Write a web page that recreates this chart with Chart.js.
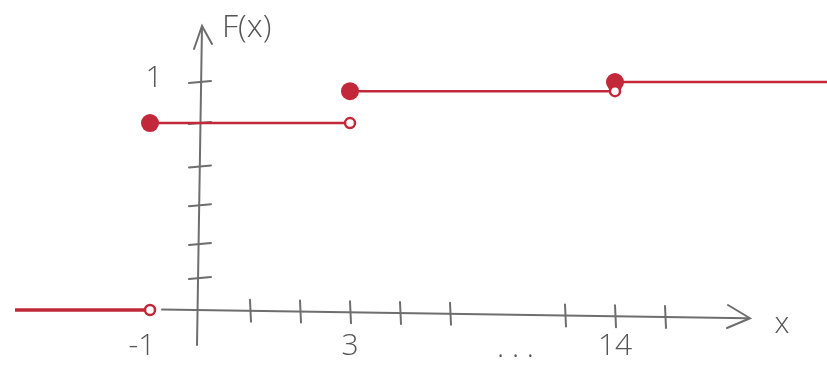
<!DOCTYPE html>
<html lang="en">
<head>
    <meta charset="UTF-8">
    <title>F(x) step function</title>
    <script src="https://cdn.jsdelivr.net/npm/chart.js"></script>
    <style>
        html, body {
            margin: 0;
            padding: 0;
            background: #ffffff;
        }
        #wrap {
            width: 827px;
            height: 367px;
        }
    </style>
</head>
<body>
    <div id="wrap"><canvas id="cdfChart"></canvas></div>

    <script>
        // Jump points of F(x) and the level on each piece
        const jumpsX = [-1, 3, 14];
        const levels = [0, 0.82, 0.96, 1];

        // Axis ticks as drawn (x axis is broken between 5 and 13)
        const xTicks = [1, 2, 3, 4, 5, 13, 14, 15];
        const xLabels = ['-1', '3', '14'];
        const xLabelValues = [-1, 3, 14];
        const yTicks = [0.14, 0.29, 0.46, 0.63, 0.82, 1];
        const yLabel = '1';

        const red = '#c2283a';
        const grey = '#6e6e6e';

        // squeeze the gap "..." between 5 and 13
        function axisPos(x) {
            return x <= 5 ? x : x - 5.7;
        }

        // one dataset per piece: filled dot at the left end, open circle at the right end
        const pieces = [];
        const bounds = [-3.7].concat(jumpsX).concat([20]);
        for (let i = 0; i < levels.length; i++) {
            pieces.push({
                data: [
                    { x: axisPos(bounds[i]), y: levels[i] },
                    { x: axisPos(bounds[i + 1]), y: levels[i] }
                ],
                borderColor: red,
                borderWidth: i === 0 ? 3.5 : 2.5,
                pointRadius: [i === 0 ? 0 : 9, i === levels.length - 1 ? 0 : 5],
                pointBackgroundColor: [red, '#ffffff'],
                pointBorderColor: red,
                pointBorderWidth: [0, 2.5],
                pointHoverRadius: 0
            });
        }

        // hand-drawn style axes, tick marks and labels
        const sketchAxes = {
            id: 'sketchAxes',
            beforeDatasetsDraw(chart) {
                const { ctx, scales: { x, y } } = chart;
                const x0 = x.getPixelForValue(0);
                const y0 = y.getPixelForValue(0);
                ctx.save();
                ctx.strokeStyle = grey;
                ctx.lineWidth = 2;
                ctx.lineCap = 'round';

                // x axis, sloping a little like the pen line
                const slope = 0.015;
                const yAt = px => y0 + (px - x0) * slope;
                ctx.beginPath();
                ctx.moveTo(162, yAt(162));
                ctx.lineTo(748, yAt(748));
                ctx.stroke();
                ctx.beginPath();
                ctx.moveTo(728, 305);
                ctx.lineTo(750, yAt(750));
                ctx.lineTo(727, 328);
                ctx.stroke();

                xTicks.forEach(v => {
                    const px = x.getPixelForValue(axisPos(v));
                    ctx.beginPath();
                    ctx.moveTo(px, yAt(px) - 11);
                    ctx.lineTo(px + 1, yAt(px) + 11);
                    ctx.stroke();
                });

                // y axis
                ctx.beginPath();
                ctx.moveTo(197, 345);
                ctx.lineTo(202, 26);
                ctx.stroke();
                ctx.beginPath();
                ctx.moveTo(194, 49);
                ctx.lineTo(202, 26);
                ctx.lineTo(212, 44);
                ctx.stroke();

                yTicks.forEach(v => {
                    const py = y.getPixelForValue(v);
                    ctx.beginPath();
                    ctx.moveTo(x0 - 11, py + 1);
                    ctx.lineTo(x0 + 11, py - 1);
                    ctx.stroke();
                });
                ctx.restore();
            },
            afterDraw(chart) {
                const { ctx, scales: { x, y } } = chart;
                const x0 = x.getPixelForValue(0);
                ctx.save();
                ctx.fillStyle = '#555555';
                ctx.font = '300 30px "Open Sans", "DejaVu Sans", sans-serif';
                ctx.textAlign = 'center';
                ctx.textBaseline = 'middle';

                xLabels.forEach((t, i) => {
                    const px = x.getPixelForValue(axisPos(xLabelValues[i]));
                    ctx.fillText(t, px - (i === 0 ? 8 : 0), 346);
                });
                // dots in the axis break
                const gapMid = (x.getPixelForValue(axisPos(5)) + x.getPixelForValue(axisPos(13))) / 2;
                ctx.fillText('. . .', gapMid + 8, 348);
                ctx.fillText('x', 782, 324);
                ctx.fillText(yLabel, x0 - 46, y.getPixelForValue(1) - 4);

                ctx.textAlign = 'left';
                ctx.font = '300 32px "Open Sans", "DejaVu Sans", sans-serif';
                ctx.fillText('F(x)', 222, 28);
                ctx.restore();
            }
        };

        new Chart(document.getElementById('cdfChart'), {
            type: 'line',
            data: { datasets: pieces },
            options: {
                responsive: true,
                maintainAspectRatio: false,
                animation: false,
                layout: { padding: 0, autoPadding: false },
                plugins: {
                    legend: { display: false },
                    tooltip: { enabled: false }
                },
                scales: {
                    x: { type: 'linear', display: false, min: -4, max: 12.54 },
                    y: { type: 'linear', display: false, min: -0.25, max: 1.36 }
                }
            },
            plugins: [sketchAxes]
        });
    </script>
</body>
</html>
